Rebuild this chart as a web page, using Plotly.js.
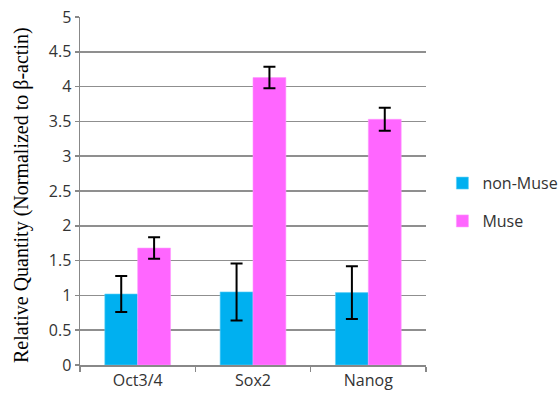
<!DOCTYPE html>
<html>
<head>
<meta charset="utf-8">
<script src="https://cdn.plot.ly/plotly-3.0.1.min.js"></script>
<style>
  html, body { margin: 0; padding: 0; background: #fff; }
  #chart { width: 560px; height: 398px; }
</style>
</head>
<body>
<div id="chart"></div>
<script>
// Relative expression of pluripotency genes, normalized to beta-actin
const genes = ['Oct3/4', 'Sox2', 'Nanog'];
const nonMuseValues = [1.02, 1.05, 1.04];
const nonMuseErrors = [0.26, 0.41, 0.38];
const museValues = [1.68, 4.13, 3.53];
const museErrors = [0.155, 0.155, 0.165];
const yTickValues = [0, 0.5, 1, 1.5, 2, 2.5, 3, 3.5, 4, 4.5, 5];
const yTickLabels = ['0', '0.5', '1', '1.5', '2', '2.5', '3', '3.5', '4', '4.5', '5'];
const yAxisTitle = 'Relative Quantity (Normalized to β-actin)';

function labelFont() {
  return { family: 'Open Sans', size: 16, color: '#333' };
}

function errorStyle(values) {
  return { type: 'data', array: values, visible: true, color: '#000', thickness: 2, width: 6 };
}

const traces = [
  {
    type: 'bar', name: 'non-Muse', x: genes, y: nonMuseValues,
    marker: { color: '#00B0F0', line: { color: '#5fd0f6', width: 0.6 } },
    error_y: errorStyle(nonMuseErrors),
    legendgroup: 'a'
  },
  {
    type: 'bar', name: 'Muse', x: genes, y: museValues,
    marker: { color: '#FF66FF', line: { color: '#ff99ff', width: 0.6 } },
    error_y: errorStyle(museErrors),
    legendgroup: 'b'
  }
];

const layout = {
  width: 560, height: 398,
  margin: { l: 80, r: 134, t: 17, b: 33 },
  paper_bgcolor: '#fff', plot_bgcolor: '#fff',
  barmode: 'group', bargap: 0.43, bargroupgap: 0,
  showlegend: true,
  legend: {
    xref: 'container', yref: 'container',
    x: 0.79, y: 0.492, xanchor: 'left', yanchor: 'middle',
    font: labelFont(),
    traceorder: 'grouped', tracegroupgap: 14,
    itemwidth: 30
  },
  xaxis: {
    type: 'category', tickfont: labelFont(),
    showline: true, linecolor: '#888', linewidth: 1.5,
    ticks: 'outside', ticklen: 5, tickcolor: '#888', tickwidth: 1.5,
    tickson: 'boundaries', showgrid: false
  },
  yaxis: {
    range: [0, 5], tickvals: yTickValues, ticktext: yTickLabels,
    ticksuffix: '\u00a0\u00a0\u00a0',
    tickfont: labelFont(),
    showline: true, linecolor: '#888', linewidth: 1.5,
    ticks: 'outside', ticklen: 4, tickcolor: '#888', tickwidth: 1.5,
    showgrid: true, gridcolor: '#8f8f8f', gridwidth: 1.5,
    zeroline: false
  },
  // vertical axis title, set in a serif face to the left of the tick labels
  annotations: [{
    text: yAxisTitle, textangle: -90,
    xref: 'paper', yref: 'paper', x: 0, y: 0.5,
    xanchor: 'center', yanchor: 'middle', xshift: -59, yshift: -4,
    showarrow: false,
    font: { family: 'Liberation Serif', size: 20, color: '#000' }
  }]
};

Plotly.newPlot('chart', traces, layout, { staticPlot: true });
</script>
</body>
</html>
